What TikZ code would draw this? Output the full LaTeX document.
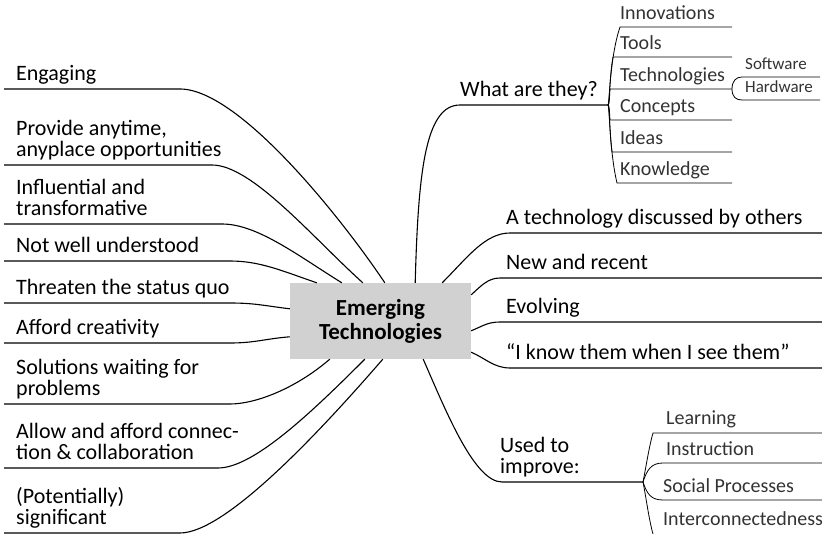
\documentclass[tikz,border=0pt]{standalone}
\usepackage{fontspec}
\setmainfont{Carlito}
\begin{document}
\begin{tikzpicture}[x=1pt,y=-1pt,
  leaf/.style={anchor=south west,inner sep=0pt,text depth=5pt,align=left,
    font=\fontsize{22}{21.5}\selectfont},
  twig/.style={anchor=south west,inner sep=0pt,text depth=4pt,
    font=\fontsize{20}{20}\selectfont,text=black!80},
  branch/.style={line width=1.1pt},
  sprig/.style={line width=0.8pt}]
  \useasboundingbox (0,0) rectangle (822,534);

  % centre
  \node[fill=black!18,minimum width=181pt,minimum height=76pt,align=center,
    font=\fontsize{23}{24}\bfseries\selectfont] (et) at (380.5,321)
    {Emerging\\Technologies};

  % left side
  \node[leaf] (eng) at (16,86) {Engaging};
  \coordinate (eng-s) at (4,89);
  \coordinate (eng-e) at (180,89);
  \draw[branch] (eng-s) -- (eng-e) .. controls +(60,0) and +(-40,-60) ..
    ([xshift=95pt]et.north west);

  \node[leaf] (any) at (16,162) {Provide anytime,\\anyplace opportunities};
  \coordinate (any-s) at (4,165);
  \coordinate (any-e) at (212,165);
  \draw[branch] (any-s) -- (any-e) .. controls +(40,0) and +(-50,-45) ..
    ([xshift=73pt]et.north west);

  \node[leaf] (inf) at (16,221) {Influential and\\transformative};
  \coordinate (inf-s) at (4,224);
  \coordinate (inf-e) at (222,224);
  \draw[branch] (inf-s) -- (inf-e) .. controls +(35,0) and +(-45,-28) ..
    ([xshift=52pt]et.north west);

  \node[leaf] (nwu) at (16,258) {Not well understood};
  \coordinate (nwu-s) at (4,261);
  \coordinate (nwu-e) at (230,261);
  \draw[branch] (nwu-s) -- (nwu-e) .. controls +(30,0) and +(-35,-12) ..
    ([xshift=27pt]et.north west);

  \node[leaf] (thr) at (16,300) {Threaten the status quo};
  \coordinate (thr-s) at (4,303);
  \coordinate (thr-e) at (230,303);
  \draw[branch] (thr-s) -- (thr-e) .. controls +(25,0) and +(-25,-3) ..
    ([yshift=-26pt]et.north west);

  \node[leaf] (cre) at (16,340) {Afford creativity};
  \coordinate (cre-s) at (4,343);
  \coordinate (cre-e) at (230,343);
  \draw[branch] (cre-s) -- (cre-e) .. controls +(25,0) and +(-25,2) ..
    ([yshift=-54pt]et.north west);

  \node[leaf] (sol) at (16,401) {Solutions waiting for\\problems};
  \coordinate (sol-s) at (4,404);
  \coordinate (sol-e) at (230,404);
  \draw[branch] (sol-s) -- (sol-e) .. controls +(25,0) and +(-35,30) ..
    ([xshift=40pt]et.south west);

  \node[leaf] (col) at (16,465) {Allow and afford connec-\\tion \& collaboration};
  \coordinate (col-s) at (4,468);
  \coordinate (col-e) at (218,468);
  \draw[branch] (col-s) -- (col-e) .. controls +(35,0) and +(-55,55) ..
    ([xshift=75pt]et.south west);

  \node[leaf] (sig) at (16,530) {(Potentially)\\significant};
  \coordinate (sig-s) at (4,533);
  \coordinate (sig-e) at (180,533);
  \draw[branch] (sig-s) -- (sig-e) .. controls +(45,0) and +(-65,75) ..
    ([xshift=93pt]et.south west);

  % right side
  \node[leaf] (wat) at (460,102) {What are they?};
  \coordinate (wat-s) at (460,105);
  \coordinate (wat-e) at (608,105);
  \draw[branch] ([xshift=-56pt]et.north east) .. controls +(3,-110) and +(-35,0) ..
    (wat-s) -- (wat-e);

  \foreach \nm/\xx/\yy/\txt in {inn/620/27/Innovations,too/613/57/Tools,
      tec/610/89/Technologies,con/610/120/Concepts,ide/612/152/Ideas,
      kno/617/183/Knowledge}{
    \node[twig] (\nm) at (620,\yy-3) {\txt};
    \coordinate (\nm-s) at (\xx,\yy);
    \coordinate (\nm-e) at (732,\yy);
    \draw[sprig] (wat-e) .. controls (609.5,105) and (609.5,{\yy+0.4*(105-\yy)}) ..
      (\nm-s) -- (\nm-e);
  }

  \node[twig,font=\fontsize{17}{17}\selectfont] (sof) at (745,74) {Software};
  \coordinate (sof-s) at (742,77);
  \coordinate (sof-e) at (820,77);
  \draw[sprig] (tec-e) .. controls +(0,-8) and +(-6,0) .. (sof-s) -- (sof-e);
  \node[twig,font=\fontsize{17}{17}\selectfont] (har) at (745,97) {Hardware};
  \coordinate (har-s) at (742,100);
  \coordinate (har-e) at (820,100);
  \draw[sprig] (tec-e) .. controls +(0,8) and +(-6,0) .. (har-s) -- (har-e);

  \node[leaf] (oth) at (506,230) {A technology discussed by others};
  \coordinate (oth-s) at (510,233);
  \draw[branch] ([xshift=-29pt]et.north east) .. controls +(25,-25) and +(-25,0) ..
    (oth-s) -- (822,233);

  \node[leaf] (new) at (506,275) {New and recent};
  \coordinate (new-s) at (500,278);
  \draw[branch] ([yshift=-12pt]et.north east) .. controls +(10,-9) and +(-12,0) ..
    (new-s) -- (822,278);

  \node[leaf] (evo) at (506,319) {Evolving};
  \coordinate (evo-s) at (500,322);
  \draw[branch] ([yshift=-48pt]et.north east) .. controls +(12,-5) and +(-12,0) ..
    (evo-s) -- (822,322);

  \node[leaf] (kno2) at (506,365) {``I know them when I see them''};
  \coordinate (kno2-s) at (510,368);
  \draw[branch] ([yshift=7pt]et.south east) .. controls +(14,6) and +(-16,0) ..
    (kno2-s) -- (822,368);

  \node[leaf] (imp) at (500,479) {Used to\\improve:};
  \coordinate (imp-s) at (502,482);
  \coordinate (imp-e) at (643,482);
  \draw[branch] ([xshift=-48pt]et.south east) .. controls +(22,50) and +(-28,0) ..
    (imp-s) -- (imp-e);

  \node[twig] (lea) at (666,429) {Learning};
  \coordinate (lea-s) at (653,433);
  \draw[sprig] (imp-e) .. controls +(3,-15) and +(-4,14) .. (lea-s) -- (822,433);
  \node[twig] (ins) at (666,460) {Instruction};
  \coordinate (ins-s) at (663,463);
  \draw[sprig] (imp-e) .. controls +(4,-12) and +(-12,0) .. (ins-s) -- (822,463);
  \node[twig] (soc) at (663,497) {Social Processes};
  \coordinate (soc-s) at (663,500);
  \draw[sprig] (imp-e) .. controls +(4,12) and +(-12,0) .. (soc-s) -- (822,500);
  \node[twig] (int) at (663,530) {Interconnectedness};
  \coordinate (int-s) at (653,534);
  \draw[sprig] (imp-e) .. controls +(3,15) and +(-4,-14) .. (int-s);
\end{tikzpicture}
\end{document}
